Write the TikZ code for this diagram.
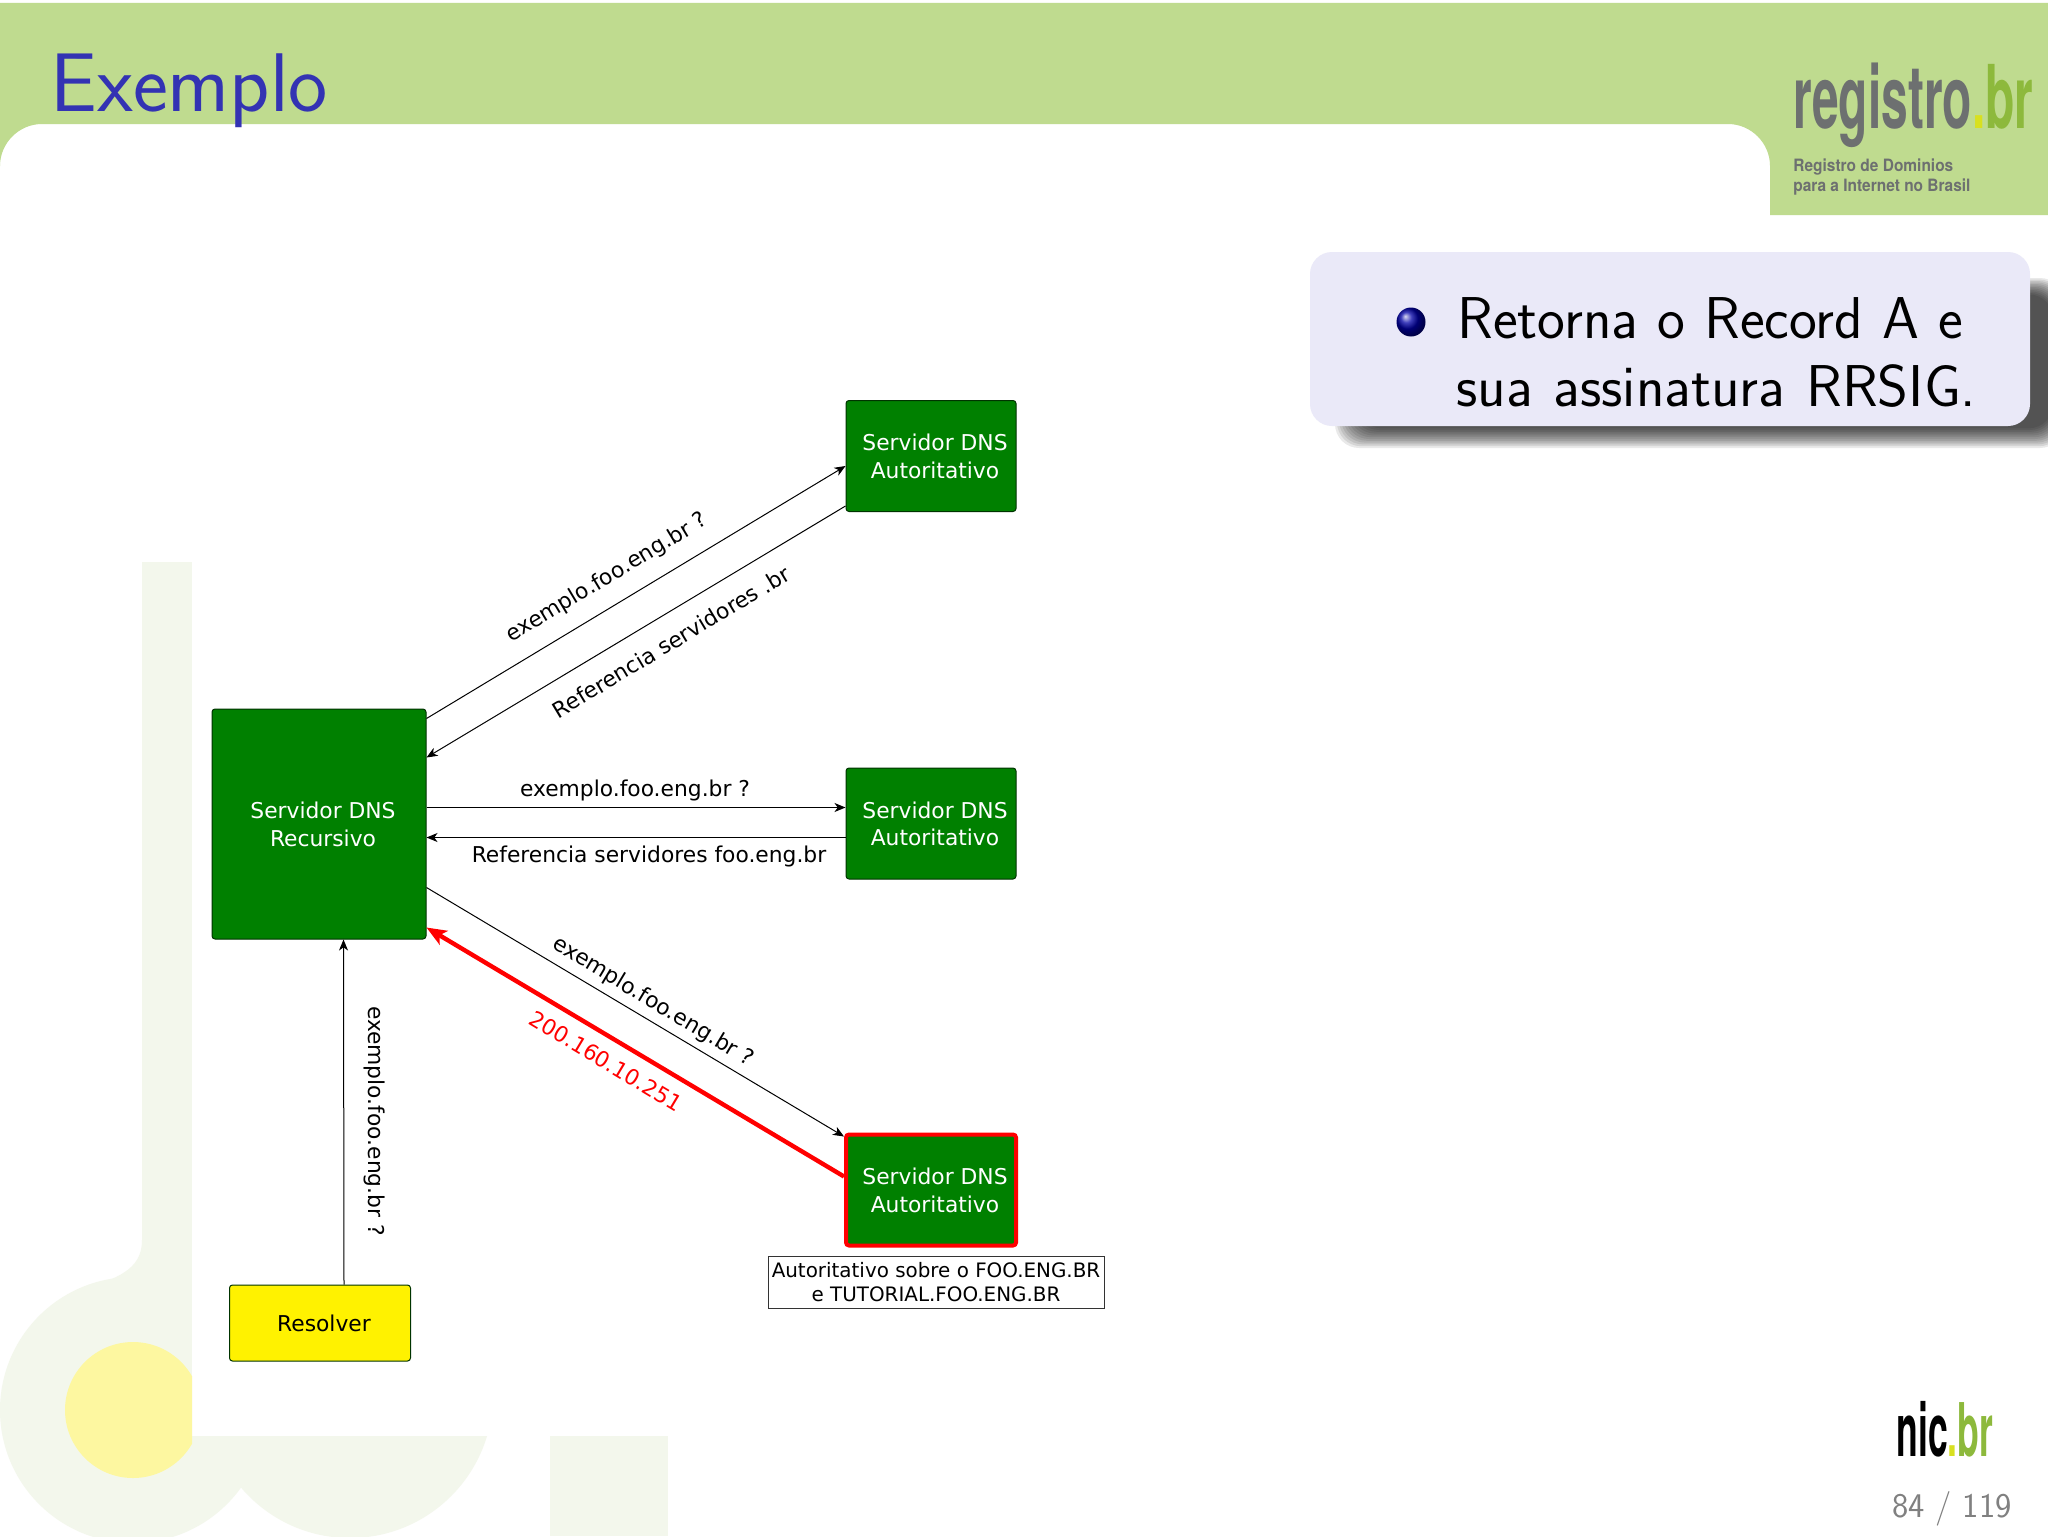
\documentclass[tikz,border=0pt]{standalone}
\usepackage{fontspec}
\usetikzlibrary{arrows.meta,calc,shadings}
\newfontfamily\djv{DejaVu Sans}
\newfontfamily\heros{TeX Gyre Heros}
\definecolor{hdr}{HTML}{BFDB8F}
\definecolor{wm}{HTML}{F3F7EC}
\definecolor{wmy}{HTML}{FDF7A0}
\definecolor{panel}{HTML}{EAE9F8}
\definecolor{titleblue}{HTML}{3333B3}
\definecolor{boxgreen}{HTML}{008000}
\definecolor{lgray}{HTML}{6D7070}
\definecolor{lgreen}{HTML}{8DB93C}
\definecolor{ldot}{HTML}{D8E020}
\definecolor{pgnum}{HTML}{808080}
\newcommand{\shiftedtext}[1]{\kern4pt\raisebox{0pt}[\dimexpr\height+3pt\relax][\depth]{\begin{tabular}{@{}c@{}}#1\end{tabular}}}
\tikzset{
  x=0.5pt,y=-0.5pt,
  diagtext/.style={font=\djv\fontsize{10.9}{13.6}\selectfont,inner sep=0pt},
  flowbox/.style={diagtext,draw=black!80!green,line width=0.5pt,rounded corners=1.5pt,inner sep=0pt},
  dnsbox/.style={flowbox,fill=boxgreen,text=white,minimum width=85pt,minimum height=55.5pt},
  flow/.style={-{Stealth[length=5.5pt,width=4.5pt,inset=1.6pt]},line width=0.5pt,black},
  redflow/.style={-{Stealth[length=10pt,width=8pt,inset=2.5pt]},line width=2.2pt,red},
  flowlabel/.style={diagtext},
}
\begin{document}
\begin{tikzpicture}
\useasboundingbox (0,0) rectangle (2048,1536);
\fill[white] (0,0) rectangle (2048,1536);
\begin{scope}
\clip (0,0) rectangle (2048,1536);
% watermark
\fill[wm] (133,1410) circle[radius=133];
\fill[wm] (350,1395) circle[radius=143];
\fill[wm] (142,562) rectangle (192,1300);
\fill[wm] (142,1240) .. controls (142,1265) and (125,1277) .. (85,1288) -- (192,1330) -- (192,1240) -- cycle;
\fill[wm] (550,1436) rectangle (668,1536);
\fill[white] (192,500) rectangle (1000,1436);
\begin{scope}
\clip (0,1300) rectangle (192,1536);
\fill[wmy] (133,1410) circle[radius=68];
\end{scope}
% header
\fill[hdr] (0,3) -- (2048,3) -- (2048,215) -- (1770,215) -- (1770,166)
  .. controls (1770,143) and (1751,124) .. (1728,124) -- (42,124) .. controls (19,124) and (0,143) .. (0,166) -- cycle;
% callout shadow
\foreach \i in {0,...,11}{
  \fill[black,opacity=0.085,rounded corners=12pt]
    ({1335+2*\i},{278+1.5*\i}) rectangle ({2064-\i},{448-1.8*\i});
}
\fill[panel,rounded corners=11pt] (1310,252) rectangle (2030,426);
\shade[ball color=blue!65!black] (1411,322) circle[radius=14.5];
\end{scope}
\node[anchor=base west,inner sep=0pt,text=titleblue,font=\sffamily\fontsize{41.6}{42}\selectfont] (title) at (50,112) {Exemplo};
\node[anchor=base west,inner sep=0pt,font=\sffamily\fontsize{29.5}{34}\selectfont] (line1) at (1457,338) {\makebox[253pt][s]{Retorna o Record A e}};
\node[anchor=base west,inner sep=0pt,font=\sffamily\fontsize{29.5}{34}\selectfont] (line2) at (1456,406) {\makebox[260pt][s]{sua assinatura RRSIG.}};
% logos
\node[anchor=base west,inner sep=0pt,text=lgray,font=\heros\bfseries\fontsize{44}{44}\selectfont] (regbr) at (1793,128) {\scalebox{0.545}[1]{registro\textcolor{ldot}{.}\textcolor{lgreen}{br}}};
\node[anchor=base west,inner sep=0pt,text=lgray,font=\heros\bfseries\fontsize{8.5}{9}\selectfont] (reg1) at (1793,171) {\scalebox{0.91}[1]{Registro de Dominios}};
\node[anchor=base west,inner sep=0pt,text=lgray,font=\heros\bfseries\fontsize{8.5}{9}\selectfont] (reg2) at (1793,191) {\scalebox{0.91}[1]{para a Internet no Brasil}};
\node[anchor=base west,inner sep=0pt,text=black,font=\heros\bfseries\fontsize{37}{37}\selectfont] (nicbr) at (1896,1456) {\scalebox{0.48}[1]{nic\textcolor{ldot}{.}\textcolor{lgreen}{br}}};
\node[anchor=base east,inner sep=0pt,text=pgnum,font=\sffamily\fontsize{17.3}{18}\selectfont] (pg) at (2012,1517) {84 / 119};
% nodes
\node[dnsbox,minimum width=107pt,minimum height=115pt] (rec) at (319,824) {\shiftedtext{Servidor DNS\\Recursivo}};
\node[dnsbox] (a1) at (931,456) {\shiftedtext{Servidor DNS\\Autoritativo}};
\node[dnsbox] (a2) at (931,823.5) {\shiftedtext{Servidor DNS\\Autoritativo}};
\node[dnsbox,draw=red,line width=2pt] (a3) at (931,1190) {\shiftedtext{Servidor DNS\\Autoritativo}};
\node[flowbox,fill=yellow,text=black,minimum width=90.5pt,minimum height=38pt] (res) at (320,1323) {\shiftedtext{Resolver}};
\node[diagtext,draw=black!80,fill=white,line width=0.5pt,minimum width=168pt,minimum height=26pt,align=center,font=\djv\fontsize{9.95}{12.3}\selectfont] (note) at (936,1282) {Autoritativo sobre o FOO.ENG.BR\\e TUTORIAL.FOO.ENG.BR};
% connectors
\draw[flow] ($(rec.north east)+(0,10)$) -- ($(a1.north west)+(0,66)$);
\draw[flow] ($(a1.north west)+(0,106)$) -- ($(rec.north east)+(0,49)$);
\draw[flow] ($(rec.north east)+(0,99)$) -- ($(a2.north west)+(0,40)$);
\draw[flow] ($(a2.north west)+(0,70)$) -- ($(rec.north east)+(0,129)$);
\draw[flow] ($(rec.north east)+(0,179)$) -- ($(a3.north west)+(0,4)$);
\draw[redflow] ($(a3.north west)+(0,44)$) -- ($(rec.north east)+(0,219)$);
\draw[flow] ($(res.north west)+(115,0)$) -- ($(rec.south west)+(132,0)$);
% labels
\node[flowlabel,rotate=31] (l1) at (607,578) {exemplo.foo.eng.br ?};
\node[flowlabel,rotate=31] (l2) at (671,642) {Referencia servidores .br};
\node[flowlabel] (l3) at (635,790) {exemplo.foo.eng.br ?};
\node[flowlabel] (l4) at (649,856) {Referencia servidores foo.eng.br};
\node[flowlabel,rotate=-31] (l5) at (653,1002) {exemplo.foo.eng.br ?};
\node[flowlabel,rotate=-31,text=red] (l6) at (606,1061) {200.160.10.251};
\node[flowlabel,rotate=-90] (l7) at (375,1121) {exemplo.foo.eng.br ?};
\end{tikzpicture}
\end{document}
